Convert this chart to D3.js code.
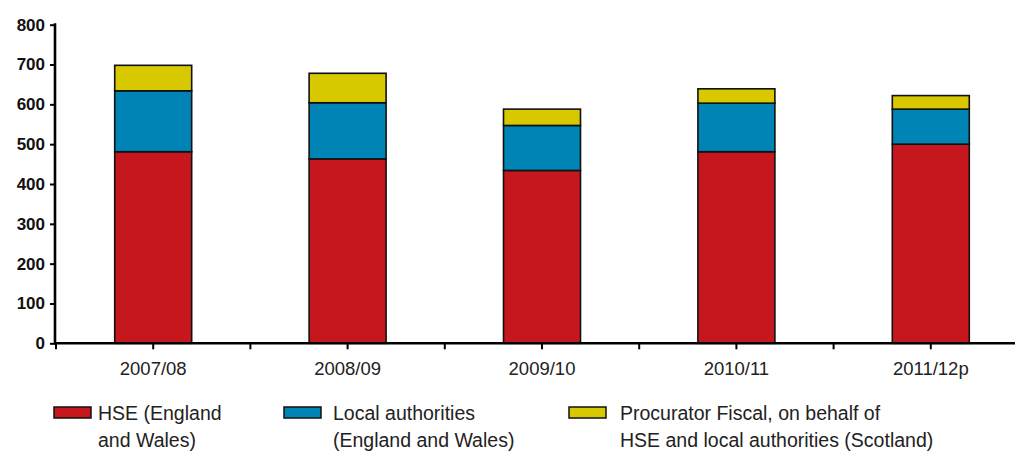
<!DOCTYPE html>
<html>
<head>
<meta charset="utf-8">
<script src="https://cdn.jsdelivr.net/npm/d3@7"></script>
<style>
  html, body { margin: 0; padding: 0; background: #fff; }
  svg { display: block; }
</style>
</head>
<body>
<svg id="chart" width="1015" height="456"></svg>
<script>
// ---- Data ----
const categories = ["2007/08", "2008/09", "2009/10", "2010/11", "2011/12p"];
const hse = [481, 463, 434, 481, 500];          // HSE (England and Wales)
const localAuth = [153, 141, 113, 122, 88];      // Local authorities (England and Wales)
const procurator = [64, 74, 41, 36, 34];         // Procurator Fiscal (Scotland)
const yTicks = [0, 100, 200, 300, 400, 500, 600, 700, 800];
const seriesNames = [
  ["HSE (England", "and Wales)"],
  ["Local authorities", "(England and Wales)"],
  ["Procurator Fiscal, on behalf of", "HSE and local authorities (Scotland)"]
];
const seriesColors = ["#C6171E", "#0083B5", "#D8C800"];

// ---- Layout ----
const svg = d3.select("#chart");
const axisX = 55, axisTop = 24.7, axisBottom = 343.3;
const step = 194.4, xStart = 56;

const y = d3.scaleLinear().domain([0, 800]).range([axisBottom, axisTop]);
const x = d3.scaleBand().domain(categories)
  .range([xStart, xStart + step * categories.length])
  .paddingInner(0.604).paddingOuter(0.302);

const rows = categories.map((c, i) => ({cat: c, hse: hse[i], la: localAuth[i], pf: procurator[i]}));
const stack = d3.stack().keys(["hse", "la", "pf"])(rows);

// Bars
const g = svg.append("g");
stack.forEach((layer, li) => {
  g.selectAll(null).data(layer).enter().append("rect")
    .attr("x", d => x(d.data.cat))
    .attr("y", d => y(d[1]))
    .attr("width", x.bandwidth())
    .attr("height", d => y(d[0]) - y(d[1]))
    .attr("fill", seriesColors[li])
    .attr("stroke", "#111")
    .attr("stroke-width", 1.6);
});

// Y axis
const yAxis = d3.axisLeft(y).tickValues(yTicks).tickSize(5).tickPadding(5);
const yg = svg.append("g").attr("transform", `translate(${axisX},0)`).call(yAxis);
yg.select(".domain").remove();
yg.selectAll(".tick line").attr("stroke", "#000").attr("stroke-width", 2);
yg.selectAll(".tick text")
  .attr("font-family", "'Liberation Sans', Arial, sans-serif")
  .attr("font-weight", "bold")
  .attr("font-size", 17)
  .attr("fill", "#111");
svg.append("line")
  .attr("x1", axisX).attr("x2", axisX)
  .attr("y1", axisTop - 1.5).attr("y2", axisBottom + 1)
  .attr("stroke", "#000").attr("stroke-width", 2.6);

// X axis
const xAxis = d3.axisBottom(x).tickSize(6).tickPadding(8);
const xg = svg.append("g").attr("transform", `translate(0,${axisBottom})`).call(xAxis);
xg.select(".domain").remove();
xg.selectAll(".tick line").attr("stroke", "#000").attr("stroke-width", 2);
xg.selectAll(".tick text")
  .attr("font-family", "'Liberation Sans', Arial, sans-serif")
  .attr("font-size", 18.5)
  .attr("fill", "#222")
  .attr("dy", "0.95em");
// boundary ticks between categories
const bounds = d3.range(categories.length + 1).map(i => xStart + i * step);
svg.selectAll(null).data(bounds).enter().append("line")
  .attr("x1", d => d).attr("x2", d => d)
  .attr("y1", axisBottom).attr("y2", axisBottom + 6)
  .attr("stroke", "#000").attr("stroke-width", 2);
svg.append("line")
  .attr("x1", axisX - 1).attr("x2", 1015)
  .attr("y1", axisBottom).attr("y2", axisBottom)
  .attr("stroke", "#000").attr("stroke-width", 2.6);

// Legend
const swatchX = [54, 284, 569];
const labelX = [98, 333, 620];
const leg = svg.append("g");
seriesNames.forEach((lines, i) => {
  leg.append("rect")
    .attr("x", swatchX[i]).attr("y", 407).attr("width", 37).attr("height", 11)
    .attr("fill", seriesColors[i]).attr("stroke", "#111").attr("stroke-width", 1.5);
  const t = leg.append("text")
    .attr("font-family", "'Liberation Sans', Arial, sans-serif")
    .attr("font-size", 19.5)
    .attr("fill", "#222");
  lines.forEach((ln, j) => {
    t.append("tspan").attr("x", labelX[i]).attr("y", 420 + j * 27).text(ln);
  });
});
</script>
</body>
</html>
